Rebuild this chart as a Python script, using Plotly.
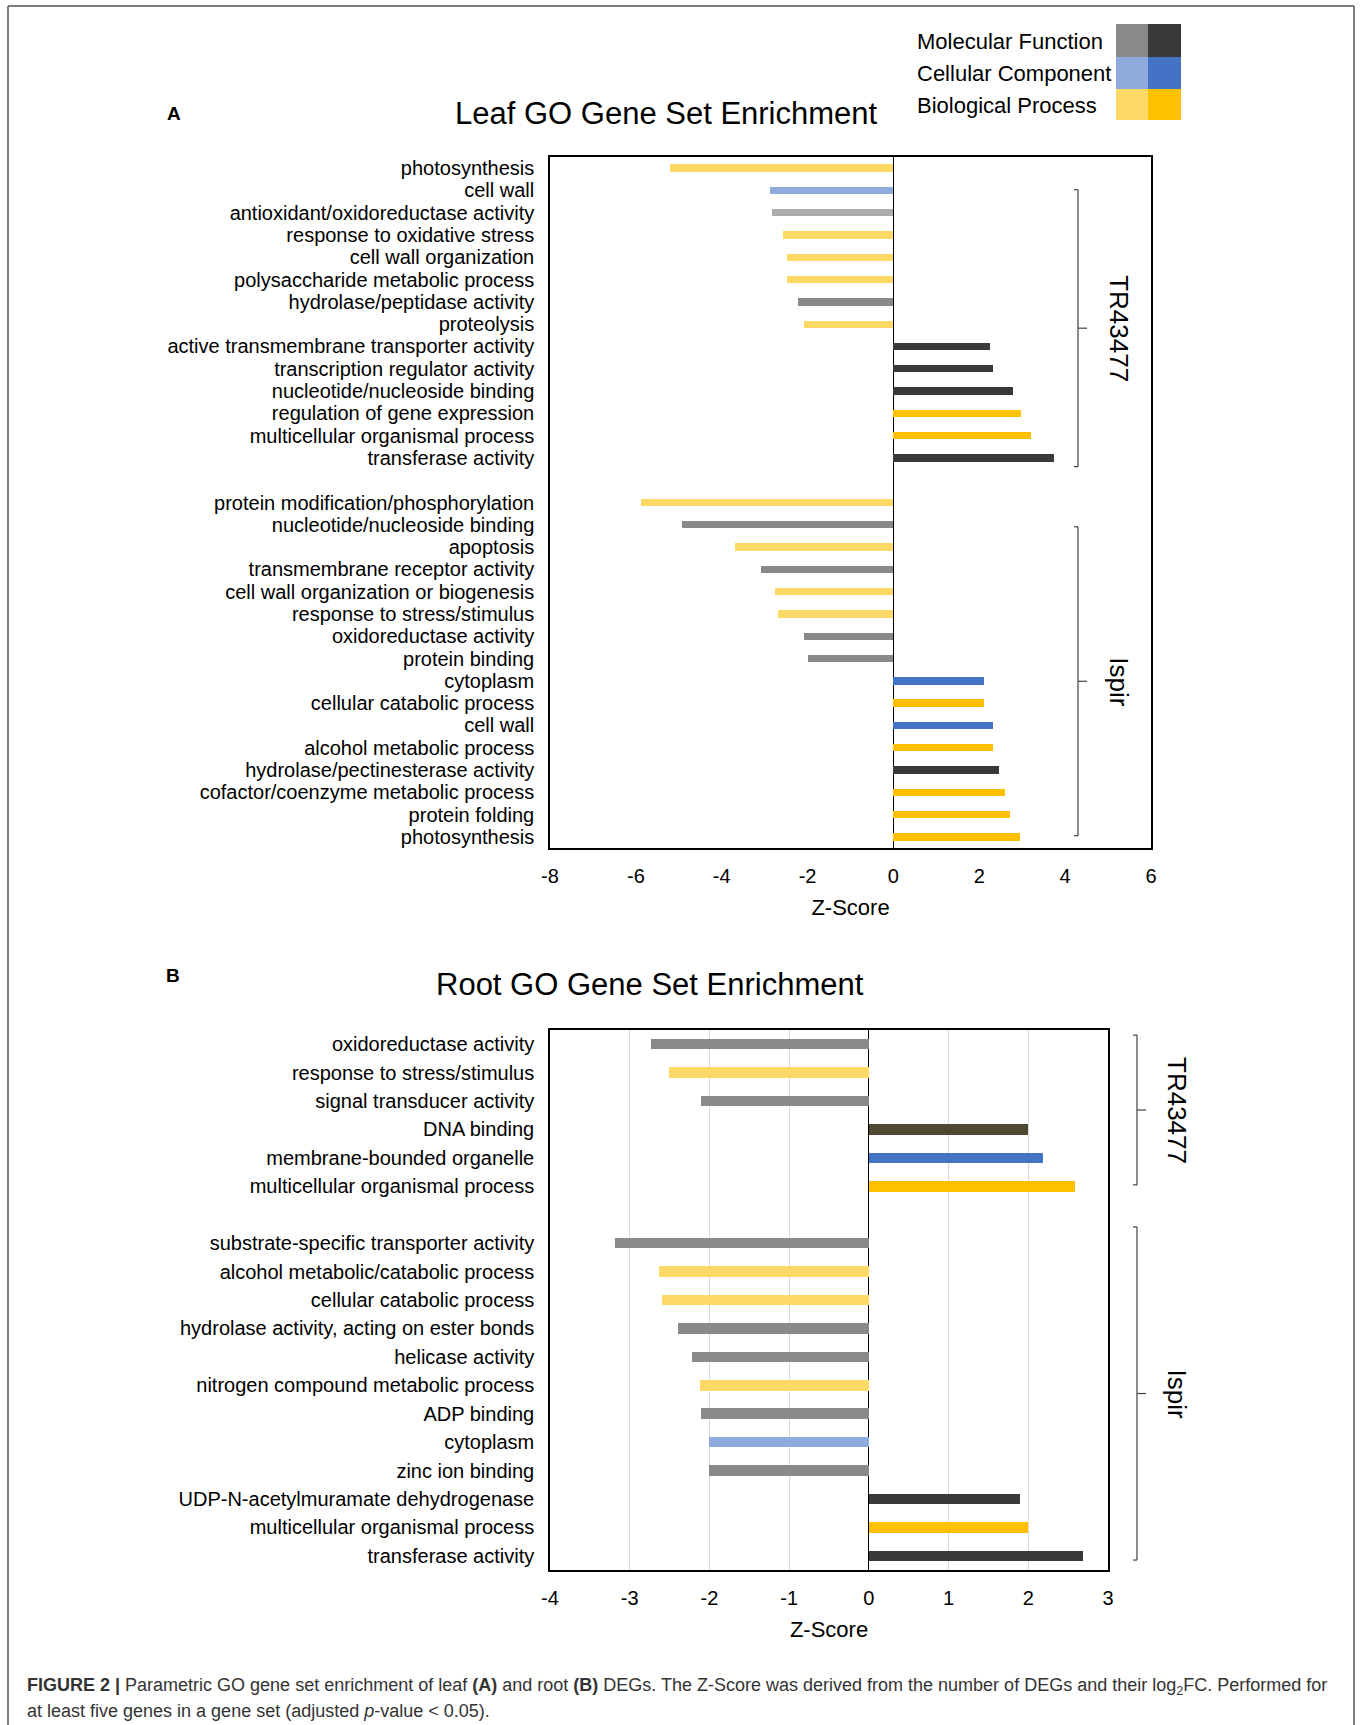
import plotly.graph_objects as go

# ---------------- data ----------------
# Leaf, TR43477 block
leaf_tr_terms = [
    "photosynthesis", "cell wall", "antioxidant/oxidoreductase activity",
    "response to oxidative stress", "cell wall organization",
    "polysaccharide metabolic process", "hydrolase/peptidase activity",
    "proteolysis", "active transmembrane transporter activity",
    "transcription regulator activity", "nucleotide/nucleoside binding",
    "regulation of gene expression", "multicellular organismal process",
    "transferase activity",
]
leaf_tr_z = [-5.20, -2.88, -2.83, -2.58, -2.49, -2.47, -2.23, -2.08,
             2.26, 2.33, 2.79, 2.96, 3.21, 3.75]
leaf_tr_go = ["BP", "CC", "MF", "BP", "BP", "BP", "MF", "BP",
              "MF", "MF", "MF", "BP", "BP", "MF"]

# Leaf, Ispir block
leaf_is_terms = [
    "protein modification/phosphorylation", "nucleotide/nucleoside binding",
    "apoptosis", "transmembrane receptor activity",
    "cell wall organization or biogenesis", "response to stress/stimulus",
    "oxidoreductase activity", "protein binding", "cytoplasm",
    "cellular catabolic process", "cell wall", "alcohol metabolic process",
    "hydrolase/pectinesterase activity", "cofactor/coenzyme metabolic process",
    "protein folding", "photosynthesis",
]
leaf_is_z = [-5.87, -4.93, -3.69, -3.09, -2.77, -2.69, -2.08, -1.98,
             2.11, 2.11, 2.31, 2.31, 2.46, 2.61, 2.71, 2.95]
leaf_is_go = ["BP", "MF", "BP", "MF", "BP", "BP", "MF", "MF",
              "CC", "BP", "CC", "BP", "MF", "BP", "BP", "BP"]

# Root, TR43477 block
root_tr_terms = [
    "oxidoreductase activity", "response to stress/stimulus",
    "signal transducer activity", "DNA binding", "membrane-bounded organelle",
    "multicellular organismal process",
]
root_tr_z = [-2.73, -2.51, -2.10, 2.00, 2.19, 2.59]
root_tr_go = ["MF", "BP", "MF", "MF", "CC", "BP"]

# Root, Ispir block
root_is_terms = [
    "substrate-specific transporter activity", "alcohol metabolic/catabolic process",
    "cellular catabolic process", "hydrolase activity, acting on ester bonds",
    "helicase activity", "nitrogen compound metabolic process", "ADP binding",
    "cytoplasm", "zinc ion binding", "UDP-N-acetylmuramate dehydrogenase",
    "multicellular organismal process", "transferase activity",
]
root_is_z = [-3.19, -2.63, -2.60, -2.39, -2.22, -2.12, -2.10, -2.00, -2.00,
             1.90, 2.00, 2.69]
root_is_go = ["MF", "BP", "BP", "MF", "MF", "BP", "MF", "CC", "MF",
              "MF", "BP", "MF"]

leaf_xticks = [-8, -6, -4, -2, 0, 2, 4, 6]
root_xticks = [-4, -3, -2, -1, 0, 1, 2, 3]

go_names = ["Molecular Function", "Cellular Component", "Biological Process"]

# ---------------- styling ----------------
W, H = 1360, 1725
FONT = "Arial, Liberation Sans, sans-serif"

# (light shade for negative scores, dark shade for positive scores)
PALETTE = {
    "MF": ("#898989", "#3b3838"),
    "CC": ("#8faadc", "#4472c4"),
    "BP": ("#ffd966", "#ffc000"),
}
# individual shades that differ from the ontology palette
OVERRIDES = {
    ("leaf", 2): "#aeabab",
    ("root", 3): "#4e4832",
}


def px(x):
    return x / W


def py(y):
    return 1 - y / H


def bar_colors(panel, zs, gos):
    out = []
    for i, (z, g) in enumerate(zip(zs, gos)):
        out.append(OVERRIDES.get((panel, i), PALETTE[g][0 if z < 0 else 1]))
    return out


def stack(first_terms, first_z, first_go, second_terms, second_z, second_go):
    # one empty slot separates the two genotype blocks
    n1 = len(first_terms)
    pos = list(range(n1)) + [n1 + 1 + i for i in range(len(second_terms))]
    return (pos, first_terms + second_terms, first_z + second_z,
            first_go + second_go)


def tick_text(vals):
    # plain hyphen for negatives
    return [str(v) for v in vals]


leaf_pos, leaf_terms, leaf_z, leaf_go = stack(
    leaf_tr_terms, leaf_tr_z, leaf_tr_go, leaf_is_terms, leaf_is_z, leaf_is_go)
root_pos, root_terms, root_z, root_go = stack(
    root_tr_terms, root_tr_z, root_tr_go, root_is_terms, root_is_z, root_is_go)

fig = go.Figure()

fig.add_trace(go.Bar(
    x=leaf_z, y=leaf_pos, orientation="h", width=0.33,
    marker=dict(color=bar_colors("leaf", leaf_z, leaf_go), line=dict(width=0)),
    xaxis="x", yaxis="y", showlegend=False, hoverinfo="x+text",
    hovertext=leaf_terms,
))
fig.add_trace(go.Bar(
    x=root_z, y=root_pos, orientation="h", width=0.37,
    marker=dict(color=bar_colors("root", root_z, root_go), line=dict(width=0)),
    xaxis="x2", yaxis="y2", showlegend=False, hoverinfo="x+text",
    hovertext=root_terms,
))

axis_common = dict(
    showline=True, mirror=True, linecolor="#000", linewidth=1.5,
    zeroline=True, zerolinecolor="#000", zerolinewidth=1.2,
    tickfont=dict(family=FONT, size=20, color="#000"),
    ticks="", fixedrange=True, automargin=False,
)

fig.update_layout(
    width=W, height=H,
    margin=dict(l=0, r=0, t=0, b=0, autoexpand=False),
    paper_bgcolor="white", plot_bgcolor="white",
    bargap=0,
    xaxis=dict(
        axis_common, domain=[px(550), px(1151)], anchor="y",
        range=[leaf_xticks[0], leaf_xticks[-1]], tickvals=leaf_xticks,
        ticktext=tick_text(leaf_xticks),
        showgrid=False, ticklabelstandoff=9,
        title=dict(text="Z-Score", font=dict(family=FONT, size=22, color="#000"),
                   standoff=14),
    ),
    yaxis=dict(
        axis_common, domain=[py(848), py(157)], anchor="x",
        range=[max(leaf_pos) + 0.5, -0.5], tickvals=leaf_pos,
        ticktext=leaf_terms, showgrid=False, zeroline=False,
        ticklabelstandoff=10,
    ),
    xaxis2=dict(
        axis_common, domain=[px(550), px(1108)], anchor="y2",
        range=[root_xticks[0], root_xticks[-1]], tickvals=root_xticks,
        ticktext=tick_text(root_xticks),
        showgrid=True, gridcolor="#d9d9d9", gridwidth=1.2,
        ticklabelstandoff=9,
        title=dict(text="Z-Score", font=dict(family=FONT, size=22, color="#000"),
                   standoff=14),
    ),
    yaxis2=dict(
        axis_common, domain=[py(1570), py(1030)], anchor="x2",
        range=[max(root_pos) + 0.5, -0.5], tickvals=root_pos,
        ticktext=root_terms, showgrid=False, zeroline=False,
        ticklabelstandoff=10,
    ),
)

shapes = []
annotations = []

# outer figure frame (open at the bottom)
frame_col = "#555555"
shapes += [
    dict(type="line", xref="paper", yref="paper", x0=px(8), x1=px(1354),
         y0=py(6), y1=py(6), line=dict(color=frame_col, width=1.5)),
    dict(type="line", xref="paper", yref="paper", x0=px(8), x1=px(8),
         y0=py(6), y1=0, line=dict(color=frame_col, width=1.5)),
    dict(type="line", xref="paper", yref="paper", x0=px(1354), x1=px(1354),
         y0=py(6), y1=0, line=dict(color=frame_col, width=1.5)),
]


def bracket(yref, xpix, top, bottom, label, text_x):
    col = "#404040"
    mid = (top + bottom) / 2
    ln = dict(color=col, width=1.2)
    shapes.extend([
        dict(type="line", xref="paper", yref=yref, x0=px(xpix), x1=px(xpix),
             y0=top, y1=bottom, line=ln),
        dict(type="line", xref="paper", yref=yref, x0=px(xpix - 4), x1=px(xpix),
             y0=top, y1=top, line=ln),
        dict(type="line", xref="paper", yref=yref, x0=px(xpix - 4), x1=px(xpix),
             y0=bottom, y1=bottom, line=ln),
        dict(type="line", xref="paper", yref=yref, x0=px(xpix), x1=px(xpix + 9),
             y0=mid, y1=mid, line=ln),
    ])
    annotations.append(dict(
        xref="paper", yref=yref, x=px(text_x), y=mid, text=label,
        textangle=90, showarrow=False, xanchor="center", yanchor="middle",
        font=dict(family=FONT, size=26, color="#000"),
    ))


bracket("y", 1078, 0.97, 13.39, "TR43477", 1119)
bracket("y", 1078, 16.09, 29.95, "Ispir", 1119)
bracket("y2", 1137, -0.32, 4.95, "TR43477", 1177)
bracket("y2", 1137, 6.43, 18.15, "Ispir", 1177)


def label(x, y, text, size, anchor="center"):
    return dict(xref="paper", yref="paper", x=px(x), y=py(y), text=text,
                showarrow=False, xanchor=anchor, yanchor="middle",
                font=dict(family=FONT, size=size, color="#000"))


# panel letters and titles
annotations += [
    label(174, 113, "<b>A</b>", 19),
    label(173, 976, "<b>B</b>", 19),
    label(666, 113, "Leaf GO Gene Set Enrichment", 31),
    label(650, 985, "Root GO Gene Set Enrichment", 31),
]

# ontology colour key
key_rows = [(24, 57), (57, 89), (89, 120)]
for name, (y0, y1), code in zip(go_names, key_rows, ["MF", "CC", "BP"]):
    light, dark = PALETTE[code]
    shapes.append(dict(type="rect", xref="paper", yref="paper",
                       x0=px(1116), x1=px(1148), y0=py(y1), y1=py(y0),
                       fillcolor=light, line=dict(width=0)))
    shapes.append(dict(type="rect", xref="paper", yref="paper",
                       x0=px(1148), x1=px(1181), y0=py(y1), y1=py(y0),
                       fillcolor=dark, line=dict(width=0)))
    annotations.append(label(915, (y0 + y1) / 2 + 1, name, 22, anchor="left"))

# caption
cap_font = dict(family=FONT, size=18, color="#333333")
annotations += [
    dict(xref="paper", yref="paper", x=px(25), y=py(1686), xanchor="left",
         yanchor="middle", showarrow=False, font=cap_font,
         text=("<b>FIGURE 2 |</b> Parametric GO gene set enrichment of leaf "
               "<b>(A)</b> and root <b>(B)</b> DEGs. The Z-Score was derived from "
               "the number of DEGs and their log<sub>2</sub>FC. Performed for")),
    dict(xref="paper", yref="paper", x=px(25), y=py(1711), xanchor="left",
         yanchor="middle", showarrow=False, font=cap_font,
         text=("at least five genes in a gene set (adjusted <i>p</i>-value "
               "&lt; 0.05).")),
]

fig.update_layout(shapes=shapes, annotations=annotations)
fig.write_html("out.html")
